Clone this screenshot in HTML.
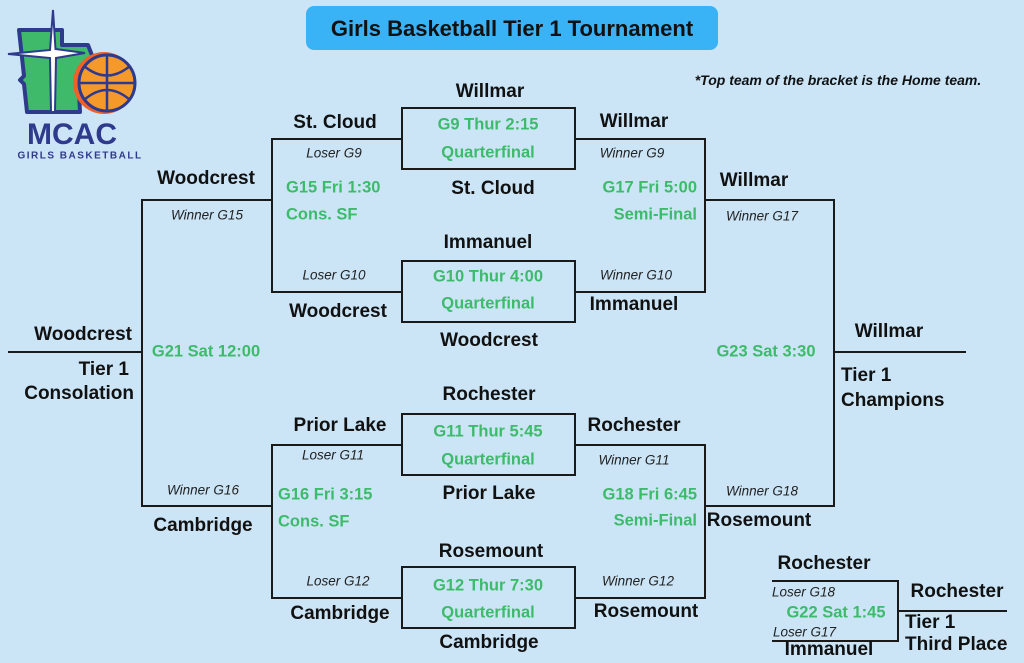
<!DOCTYPE html>
<html><head><meta charset="utf-8"><style>
body{margin:0;width:1024px;height:663px;background:#cbe5f7;position:relative;overflow:hidden;font-family:"Liberation Sans",sans-serif}
.t{position:absolute;white-space:nowrap;transform:translate(-50%,-50%);font-weight:bold;font-size:19px;color:#111}
.g{color:#3dbb6b;font-size:16.5px}
.i{font-weight:normal;font-style:italic;font-size:13.5px;color:#222}
.l{transform:translate(0,-50%)}
.r{transform:translate(-100%,-50%)}
</style></head><body>
<svg width="1024" height="663" style="position:absolute;left:0;top:0">
<g stroke="#1a1a1a" stroke-width="2" fill="none">
<rect x="402" y="108" width="173" height="61"/>
<rect x="402" y="261" width="173" height="61"/>
<rect x="402" y="414" width="173" height="61"/>
<rect x="402" y="567" width="173" height="61"/>
<path d="M402 139H272V292H402"/>
<path d="M575 139H705V292H575"/>
<path d="M402 445H272V598H402"/>
<path d="M575 445H705V598H575"/>
<path d="M272 200H142V506H272"/>
<path d="M705 200H834V506H705"/>
<path d="M8 352H142"/>
<path d="M834 352H966"/>
<path d="M772 581H898V641H772"/>
<path d="M898 611H1007"/>
</g>
<!-- logo -->
<path d="M19 30 L62 30 L62 45 L88 45 L93 58 L88 70 L78 72 L80 112 L27 112 L24 84 L20 80 L24 76 Z" fill="#3fba6a" stroke="#2e3a8c" stroke-width="4" stroke-linejoin="round"/>
<path d="M53 10 L55.5 49 L85 53 L56 58 L55 112 L51 112 L50 58 L8 54 L50 50 Z" fill="#fff" stroke="#2e3a8c" stroke-width="2"/>
<circle cx="104" cy="83" r="31" fill="#f0612a"/>
<circle cx="107" cy="83" r="28" fill="#f6992b" stroke="#2e3a8c" stroke-width="3"/>
<path d="M80 83H135M107 55V111M84 66Q107 85 130 66M84 100Q107 80 130 100" stroke="#2e3a8c" stroke-width="2.5" fill="none"/>
</svg>
<div class="t" style="left:72px;top:135px;font-size:30px;color:#2e3a8c">MCAC</div>
<div class="t" style="left:80px;top:156px;font-size:10px;color:#2e3a8c;letter-spacing:1.5px">GIRLS BASKETBALL</div>
<div style="position:absolute;left:306px;top:6px;width:412px;height:44px;background:#3ab2f6;border-radius:8px"></div>
<div class="t" style="left:512px;top:29px;font-size:22px">Girls Basketball Tier 1 Tournament</div>
<div class="t" style="left:838px;top:80px;font-size:14px;font-style:italic">*Top team of the bracket is the Home team.</div>

<div class="t" style="left:490px;top:92px">Willmar</div>
<div class="t" style="left:335px;top:123px">St. Cloud</div>
<div class="t" style="left:634px;top:122px">Willmar</div>
<div class="t i" style="left:334px;top:153px">Loser G9</div>
<div class="t i" style="left:632px;top:153px">Winner G9</div>
<div class="t g" style="left:488px;top:125px">G9 Thur 2:15</div>
<div class="t g" style="left:488px;top:153px">Quarterfinal</div>
<div class="t" style="left:493px;top:189px">St. Cloud</div>
<div class="t" style="left:206px;top:179px">Woodcrest</div>
<div class="t i" style="left:207px;top:215px">Winner G15</div>
<div class="t g l" style="left:286px;top:188px">G15 Fri 1:30</div>
<div class="t g l" style="left:286px;top:215px">Cons. SF</div>
<div class="t g r" style="left:697px;top:188px">G17 Fri 5:00</div>
<div class="t g r" style="left:697px;top:215px">Semi-Final</div>
<div class="t" style="left:754px;top:181px">Willmar</div>
<div class="t i" style="left:762px;top:216px">Winner G17</div>

<div class="t" style="left:488px;top:243px">Immanuel</div>
<div class="t i" style="left:334px;top:275px">Loser G10</div>
<div class="t i" style="left:636px;top:275px">Winner G10</div>
<div class="t g" style="left:488px;top:277px">G10 Thur 4:00</div>
<div class="t g" style="left:488px;top:304px">Quarterfinal</div>
<div class="t" style="left:338px;top:312px">Woodcrest</div>
<div class="t" style="left:634px;top:305px">Immanuel</div>
<div class="t" style="left:489px;top:341px">Woodcrest</div>

<div class="t r" style="left:132px;top:335px">Woodcrest</div>
<div class="t r" style="left:129px;top:370px">Tier 1</div>
<div class="t r" style="left:134px;top:394px">Consolation</div>
<div class="t g" style="left:206px;top:352px">G21 Sat 12:00</div>
<div class="t g" style="left:766px;top:352px">G23 Sat 3:30</div>
<div class="t" style="left:889px;top:332px">Willmar</div>
<div class="t l" style="left:841px;top:376px">Tier 1</div>
<div class="t l" style="left:841px;top:401px">Champions</div>

<div class="t" style="left:489px;top:395px">Rochester</div>
<div class="t" style="left:340px;top:426px">Prior Lake</div>
<div class="t" style="left:634px;top:426px">Rochester</div>
<div class="t i" style="left:333px;top:455px">Loser G11</div>
<div class="t i" style="left:634px;top:460px">Winner G11</div>
<div class="t g" style="left:488px;top:432px">G11 Thur 5:45</div>
<div class="t g" style="left:488px;top:460px">Quarterfinal</div>
<div class="t" style="left:489px;top:494px">Prior Lake</div>
<div class="t g l" style="left:278px;top:495px">G16 Fri 3:15</div>
<div class="t g l" style="left:278px;top:522px">Cons. SF</div>
<div class="t g r" style="left:697px;top:495px">G18 Fri 6:45</div>
<div class="t g r" style="left:697px;top:521px">Semi-Final</div>
<div class="t i" style="left:203px;top:490px">Winner G16</div>
<div class="t" style="left:203px;top:526px">Cambridge</div>
<div class="t i" style="left:762px;top:491px">Winner G18</div>
<div class="t" style="left:759px;top:521px">Rosemount</div>

<div class="t" style="left:491px;top:552px">Rosemount</div>
<div class="t i" style="left:338px;top:581px">Loser G12</div>
<div class="t i" style="left:638px;top:581px">Winner G12</div>
<div class="t g" style="left:488px;top:586px">G12 Thur 7:30</div>
<div class="t g" style="left:488px;top:613px">Quarterfinal</div>
<div class="t" style="left:340px;top:614px">Cambridge</div>
<div class="t" style="left:646px;top:612px">Rosemount</div>
<div class="t" style="left:489px;top:643px">Cambridge</div>

<div class="t" style="left:824px;top:564px">Rochester</div>
<div class="t i l" style="left:772px;top:592px">Loser G18</div>
<div class="t g" style="left:836px;top:613px">G22 Sat 1:45</div>
<div class="t i l" style="left:773px;top:632px">Loser G17</div>
<div class="t" style="left:829px;top:650px">Immanuel</div>
<div class="t" style="left:957px;top:592px">Rochester</div>
<div class="t l" style="left:905px;top:623px">Tier 1</div>
<div class="t l" style="left:905px;top:645px">Third Place</div>
</body></html>
